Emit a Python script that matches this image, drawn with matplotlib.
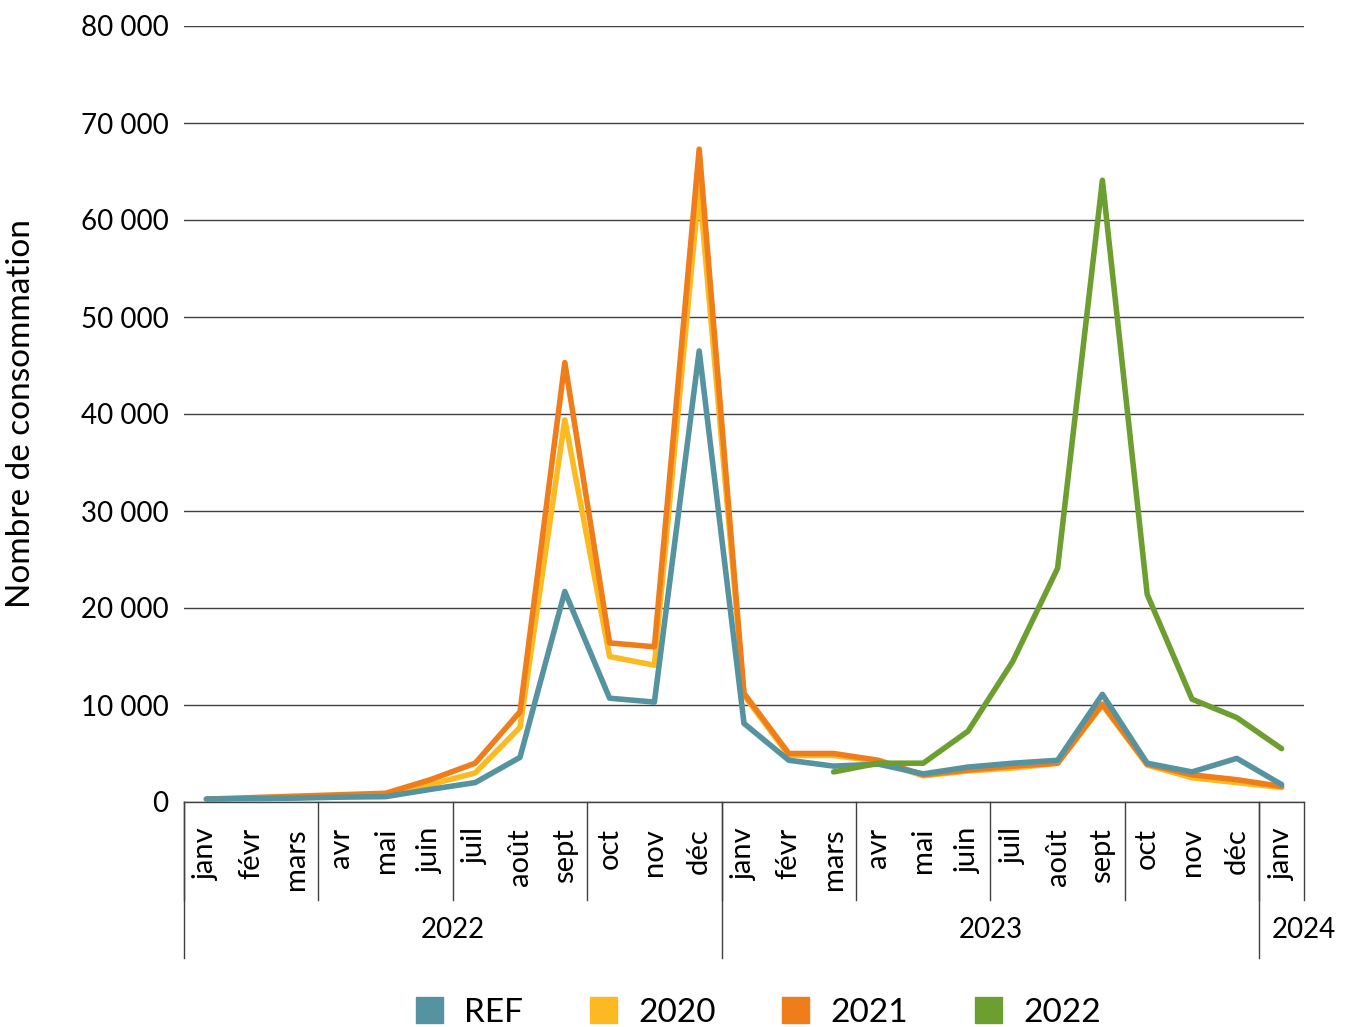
import numpy as np
import matplotlib.pyplot as plt
from matplotlib.patches import Patch
from matplotlib.ticker import FuncFormatter

plt.rcParams['font.family'] = ['Lato', 'DejaVu Sans']

# Mois (janv 2022 -> janv 2024)
mois = ['janv', 'févr', 'mars', 'avr', 'mai', 'juin', 'juil', 'août', 'sept', 'oct', 'nov', 'déc',
        'janv', 'févr', 'mars', 'avr', 'mai', 'juin', 'juil', 'août', 'sept', 'oct', 'nov', 'déc',
        'janv']
annees = ['2022', '2023', '2024']
mois_par_annee = [12, 12, 1]

ref = [300, 350, 400, 500, 550, 1300, 2000, 4600, 21700, 10700, 10300, 46500,
       8100, 4300, 3700, 3900, 2900, 3600, 4000, 4300, 11100, 4000, 3100, 4500, 1800]
s2020 = [250, 350, 450, 550, 700, 1800, 3000, 7700, 39400, 15000, 14100, 63500,
         11000, 4800, 4800, 4200, 2700, 3200, 3500, 4000, 10000, 3800, 2500, 2000, 1500]
s2021 = [300, 450, 600, 750, 900, 2300, 4000, 9300, 45300, 16400, 16000, 67300,
         11200, 5000, 5000, 4300, 2800, 3300, 3700, 4000, 10100, 3900, 2800, 2300, 1600]
s2022 = [np.nan] * 14 + [3100, 4000, 4000, 7300, 14500, 24100, 64100, 21400, 10600, 8700, 5500]

c_ref = '#5693a1'
c_2020 = '#fbb922'
c_2021 = '#ee7d1a'
c_2022 = '#6c9f2f'

fig = plt.figure(figsize=(13.52, 10.27), dpi=100)
ax = fig.add_axes([184 / 1352, 1 - 802 / 1027, 1120 / 1352, 776 / 1027])

x = np.arange(len(mois))
lw = 4.0
style = dict(lw=lw, solid_joinstyle='round', solid_capstyle='round')
ax.plot(x, s2020, color=c_2020, zorder=3, **style)
ax.plot(x, s2021, color=c_2021, zorder=4, **style)
ax.plot(x, ref, color=c_ref, zorder=5, **style)
ax.plot(x, s2022, color=c_2022, zorder=6, **style)

ax.set_xlim(-0.5, len(mois) - 0.5)
ax.set_ylim(0, 80000)
ax.set_yticks(np.arange(0, 80001, 10000))
ax.yaxis.set_major_formatter(FuncFormatter(lambda v, p: f'{int(v):,}'.replace(',', ' ')))
ax.tick_params(axis='y', length=0, pad=11, labelsize=20)
ax.grid(axis='y', color='#404040', lw=1)
ax.set_axisbelow(True)
for s in ['left', 'right', 'top']:
    ax.spines[s].set_visible(False)
ax.spines['bottom'].set_color('#404040')
ax.spines['bottom'].set_linewidth(1)
ax.set_xticks([])

ax.set_ylabel('Nombre de consommation', fontsize=24)
ax.yaxis.set_label_coords(-0.132, 0.5)

# axe des x à deux niveaux
trans = ax.get_xaxis_transform()
y_mois = -0.0335
y_trim = -0.1263
y_an = -0.201
for i, m in enumerate(mois):
    ax.text(i, y_mois, m, transform=trans, rotation=90, ha='center', va='top', fontsize=21)

# séparateurs trimestriels / annuels
debut = 0
for a, n in zip(annees, mois_par_annee):
    fin = debut + n
    for q in range(debut, fin, 3):
        ax.plot([q - 0.5, q - 0.5], [0, y_trim], transform=trans, color='#404040', lw=1, clip_on=False)
    ax.plot([debut - 0.5, debut - 0.5], [0, y_an], transform=trans, color='#404040', lw=1, clip_on=False)
    debut = fin
ax.plot([len(mois) - 0.5] * 2, [0, y_trim], transform=trans, color='#404040', lw=1, clip_on=False)

# étiquettes des années
pos_an = [5.5, 17.5, 24.5]
for a, p in zip(annees, pos_an):
    ax.text(p, -0.165, a, transform=trans, ha='center', va='center', fontsize=20)

handles = [Patch(color=c_ref, label='REF'), Patch(color=c_2020, label='2020'),
           Patch(color=c_2021, label='2021'), Patch(color=c_2022, label='2022')]
fig.legend(handles=handles, loc='center', bbox_to_anchor=(0.561, 0.014), ncol=4,
           frameon=False, fontsize=24, handlelength=0.8, handleheight=0.8,
           handletextpad=0.65, columnspacing=2.0, borderpad=0)

fig.savefig('out.png', dpi=100)
